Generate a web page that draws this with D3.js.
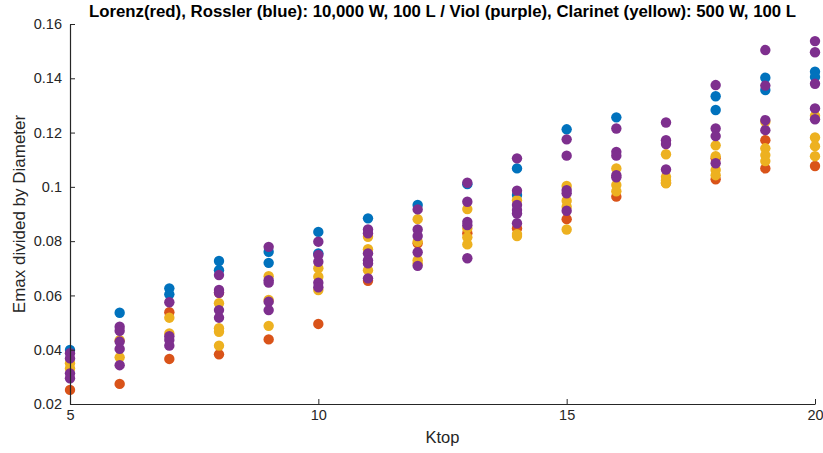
<!DOCTYPE html>
<html>
<head>
<meta charset="utf-8">
<script src="https://cdn.jsdelivr.net/npm/d3@7"></script>
<style>
  body { margin: 0; background: #fff; }
  text { font-family: "Liberation Sans", Arial, sans-serif; fill: #262626; }
  .axis path, .axis line { stroke: #262626; }
</style>
</head>
<body>
<script>
const width = 823;
const height = 453;

// Ktop values (x) and, per Ktop, Emax/Diameter values for each series
const ktop = [5, 6, 7, 8, 9, 10, 11, 12, 13, 14, 15, 16, 17, 18, 19, 20];

const lorenz = [
  [0.0252], [0.0274], [0.0538, 0.0366], [0.061, 0.0383], [0.0438], [0.0495],
  [0.0654], [0.0792], [0.0829], [0.0847], [0.0881], [0.0964], [0.1015],
  [0.1105, 0.1028], [0.1172, 0.1068], [0.1077]
];

const rossler = [
  [0.0399], [0.0536], [0.0626, 0.0604], [0.0727, 0.0693], [0.0761, 0.072],
  [0.0834, 0.0755], [0.0884], [0.0933], [0.101], [0.1068, 0.097], [0.1212],
  [0.1256], [], [0.1334, 0.1283], [0.1402, 0.1357], [0.1424, 0.1405]
];

const clarinet = [
  [0.035, 0.0331], [0.0435, 0.0372], [0.0518, 0.046], [0.0571, 0.0479, 0.0466, 0.0415],
  [0.0671, 0.0583, 0.0488], [0.07, 0.0669, 0.062], [0.0816, 0.077, 0.0693],
  [0.0881, 0.0798, 0.073, 0.0718], [0.0918, 0.0847, 0.0814, 0.0788],
  [0.0951, 0.0826, 0.0819], [0.1003, 0.0949, 0.0927, 0.0843], [0.1068, 0.1007, 0.0984],
  [0.112, 0.1037, 0.1023, 0.1013], [0.1153, 0.1113, 0.1062, 0.1043],
  [0.124, 0.1142, 0.1117, 0.1095], [0.1262, 0.1182, 0.115, 0.1113]
];

const viol = [
  [0.0387, 0.0368, 0.0313, 0.0295], [0.0485, 0.047, 0.043, 0.0403, 0.0343],
  [0.0575, 0.045, 0.0436, 0.0415], [0.0675, 0.062, 0.061, 0.0546, 0.0518],
  [0.0779, 0.0656, 0.0647, 0.0577, 0.0546], [0.0798, 0.0749, 0.0724, 0.0647, 0.063],
  [0.0843, 0.0829, 0.0755, 0.073, 0.0718, 0.0663], [0.0917, 0.0843, 0.0819, 0.0759, 0.0709],
  [0.1015, 0.0945, 0.0871, 0.0859, 0.0737], [0.1105, 0.0986, 0.0933, 0.0915, 0.0902, 0.0866],
  [0.1175, 0.1115, 0.0988, 0.0976, 0.0912], [0.1215, 0.1129, 0.1115, 0.1043, 0.1035],
  [0.1237, 0.1172, 0.1158, 0.1064], [0.1375, 0.1215, 0.1187, 0.1087],
  [0.1504, 0.1373, 0.1246, 0.1209], [0.1537, 0.1496, 0.138, 0.1289, 0.1249]
];

const xTicks = [5, 10, 15, 20];
const yTicks = [0.02, 0.04, 0.06, 0.08, 0.1, 0.12, 0.14, 0.16];
const yTickLabels = ['0.02', '0.04', '0.06', '0.08', '0.1', '0.12', '0.14', '0.16'];

// drawing order: red, blue, yellow, purple (purple ends on top)
const series = [
  { vals: lorenz, color: '#D95319' },
  { vals: rossler, color: '#0072BD' },
  { vals: clarinet, color: '#EDB120' },
  { vals: viol, color: '#7E2F8E' }
];

const svg = d3.select('body').append('svg')
  .attr('width', width)
  .attr('height', height);

const x = d3.scaleLinear().domain([5, 20]).range([70, 815]);
const y = d3.scaleLinear().domain([0.02, 0.16]).range([404, 24]);

series.forEach(s => {
  const pts = [];
  s.vals.forEach((list, i) => list.forEach(v => pts.push([ktop[i], v])));
  svg.append('g')
    .selectAll('circle')
    .data(pts)
    .enter().append('circle')
      .attr('cx', d => x(d[0]))
      .attr('cy', d => y(d[1]))
      .attr('r', 5.2)
      .attr('fill', s.color);
});

svg.append('g')
  .attr('class', 'axis')
  .attr('transform', `translate(0,${y(0.02)})`)
  .call(d3.axisBottom(x).tickValues(xTicks).tickSize(-5).tickSizeOuter(0).tickPadding(6))
  .call(g => g.selectAll('text').style('font-size', '14.5px'));

svg.append('g')
  .attr('class', 'axis')
  .attr('transform', `translate(${x(5)},0)`)
  .call(d3.axisLeft(y).tickValues(yTicks).tickSize(-5).tickSizeOuter(0).tickPadding(8)
    .tickFormat((d, i) => yTickLabels[i]))
  .call(g => g.selectAll('text').style('font-size', '14.5px'));

svg.selectAll('.axis path').attr('stroke-width', 1.2);

svg.append('text')
  .attr('x', (x(5) + x(20)) / 2)
  .attr('y', 17)
  .attr('text-anchor', 'middle')
  .style('font-size', '16.8px')
  .style('font-weight', 'bold')
  .style('fill', '#000')
  .text('Lorenz(red), Rossler (blue): 10,000 W, 100 L / Viol (purple), Clarinet (yellow): 500 W, 100 L');

svg.append('text')
  .attr('x', (x(5) + x(20)) / 2)
  .attr('y', 443)
  .attr('text-anchor', 'middle')
  .style('font-size', '16.5px')
  .text('Ktop');

svg.append('text')
  .attr('transform', `translate(25,${(y(0.02) + y(0.16)) / 2}) rotate(-90)`)
  .attr('text-anchor', 'middle')
  .style('font-size', '17px')
  .text('Emax divided by Diameter');
</script>
</body>
</html>
